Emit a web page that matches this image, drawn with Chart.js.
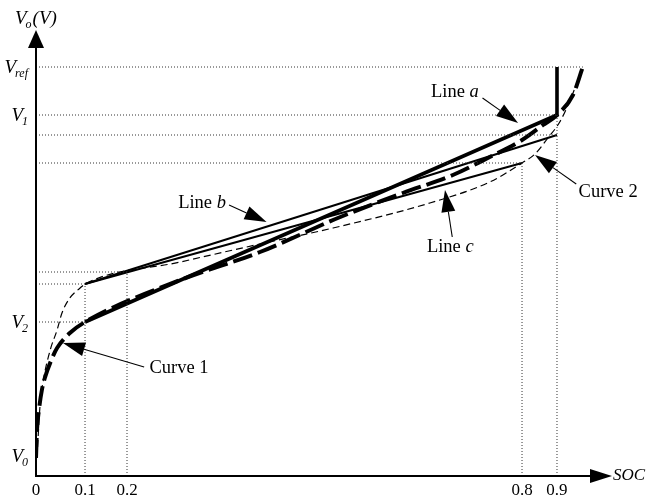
<!DOCTYPE html>
<html>
<head>
<meta charset="utf-8">
<script src="https://cdn.jsdelivr.net/npm/chart.js@4.4.0/dist/chart.umd.min.js"></script>
<style>
  html, body { margin: 0; padding: 0; background: #fff; }
  #wrap { width: 646px; height: 503px; }
</style>
</head>
<body>
<div id="wrap"><canvas id="c" width="646" height="503"></canvas></div>
<script>
// ---- axis ticks ----
const socTicks = [0, 0.1, 0.2, 0.8, 0.9];
const socTickLabels = ['0', '0.1', '0.2', '0.8', '0.9'];
const voltTickValues = [0.20, 1.54, 3.61, 4.09];
const voltTickMain = ['V', 'V', 'V', 'V'];
const voltTickSub = ['0', '2', '1', 'ref'];

// ---- Curve 1 (thick dashed) ----
const curve1Soc  = [0, 0.002, 0.006, 0.012, 0.018, 0.033, 0.043, 0.069, 0.1, 0.281, 0.402, 0.524, 0.619, 0.695, 0.748, 0.8, 0.86, 0.9, 0.929, 0.947];
const curve1Volt = [0.18, 0.46, 0.66, 0.86, 0.98, 1.18, 1.28, 1.43, 1.54, 1.96, 2.24, 2.59, 2.83, 3.01, 3.18, 3.36, 3.51, 3.61, 3.81, 4.09];

// ---- Curve 2 (thin dashed) ----
const curve2Soc  = [0.002, 0.004, 0.008, 0.014, 0.029, 0.043, 0.053, 0.069, 0.09, 0.1, 0.281, 0.402, 0.513, 0.66, 0.751, 0.8, 0.837, 0.874, 0.905, 0.924, 0.947];
const curve2Volt = [0.18, 0.36, 0.69, 0.93, 1.26, 1.46, 1.63, 1.78, 1.88, 1.92, 2.14, 2.32, 2.48, 2.73, 2.94, 3.13, 3.22, 3.38, 3.54, 3.76, 4.09];

// ---- straight-line approximations ----
const lineASoc  = [0.1, 0.9, 0.9];
const lineAVolt = [1.54, 3.61, 4.09];
const lineBSoc  = [0.1, 0.9];
const lineBVolt = [1.92, 3.41];
const lineCSoc  = [0.1, 0.8];
const lineCVolt = [1.92, 3.13];

// ---- dotted reference lines ----
const hGuideVolt   = [4.09, 3.61, 3.41, 3.13, 2.04, 1.92, 1.54];
const hGuideSocEnd = [0.947, 0.9, 0.9, 0.8, 0.2, 0.1, 0.1];
const vGuideSoc     = [0.1, 0.2, 0.8, 0.9];
const vGuideVoltTop = [1.92, 2.04, 3.13, 3.61];

// ---- callout labels: text parts [upright, italic], label centre, arrow start, arrow tip ----
const calloutText   = [['Line ', 'a'], ['Line ', 'b'], ['Line ', 'c'], ['Curve 1', ''], ['Curve 2', '']];
const calloutAt     = [[0.698, 3.84], [0.314, 2.73], [0.691, 2.29], [0.279, 1.08], [0.993, 2.84]];
const calloutFrom   = [[0.740, 3.78], [0.355, 2.71], [0.694, 2.39], [0.226, 1.09], [0.935, 2.92]];
const calloutTip    = [[0.794, 3.53], [0.412, 2.54], [0.683, 2.86], [0.055, 1.33], [0.837, 3.21]];

// SOC axis is drawn with uneven spacing between its marked values
const socKnots = [0, 0.1, 0.2, 0.8, 0.9, 1.0];
const socKnotPos = [0, 0.0851, 0.158, 0.8438, 0.9045, 1];

function interp(v, xs, ys) {
  if (v <= xs[0]) return ys[0] + (v - xs[0]) * (ys[1] - ys[0]) / (xs[1] - xs[0]);
  for (let i = 1; i < xs.length; i++) {
    if (v <= xs[i]) return ys[i - 1] + (v - xs[i - 1]) * (ys[i] - ys[i - 1]) / (xs[i] - xs[i - 1]);
  }
  const n = xs.length - 1;
  return ys[n] + (v - xs[n]) * (ys[n] - ys[n - 1]) / (xs[n] - xs[n - 1]);
}

class SegmentedScale extends Chart.LinearScale {
  getPixelForValue(value) {
    if (value === null || value === undefined || isNaN(value)) return NaN;
    return this.getPixelForDecimal(interp(value, socKnots, socKnotPos));
  }
  getValueForPixel(pixel) {
    return interp(this.getDecimalForPixel(pixel), socKnotPos, socKnots);
  }
}
SegmentedScale.id = 'segmented';
SegmentedScale.defaults = Chart.LinearScale.defaults;
Chart.register(SegmentedScale);

const pts = (xs, ys) => xs.map((x, i) => ({ x: x, y: ys[i] }));

const datasets = [];
// dotted guides first so the curves sit on top
hGuideVolt.forEach((v, i) => datasets.push({
  data: [{ x: 0, y: v }, { x: hGuideSocEnd[i], y: v }],
  borderColor: '#333', borderWidth: 1, borderDash: [1, 2], pointRadius: 0, tension: 0
}));
vGuideSoc.forEach((s, i) => datasets.push({
  data: [{ x: s, y: 0 }, { x: s, y: vGuideVoltTop[i] }],
  borderColor: '#333', borderWidth: 1, borderDash: [1, 2], pointRadius: 0, tension: 0
}));
datasets.push({
  label: 'Curve 2', data: pts(curve2Soc, curve2Volt),
  borderColor: '#000', borderWidth: 1.2, borderDash: [7, 4], pointRadius: 0,
  cubicInterpolationMode: 'monotone'
});
datasets.push({
  label: 'Line b', data: pts(lineBSoc, lineBVolt),
  borderColor: '#000', borderWidth: 2, pointRadius: 0, tension: 0
});
datasets.push({
  label: 'Line c', data: pts(lineCSoc, lineCVolt),
  borderColor: '#000', borderWidth: 2, pointRadius: 0, tension: 0
});
datasets.push({
  label: 'Line a', data: pts(lineASoc, lineAVolt),
  borderColor: '#000', borderWidth: 3.6, pointRadius: 0, tension: 0,
  borderJoinStyle: 'miter'
});
datasets.push({
  label: 'Curve 1', data: pts(curve1Soc, curve1Volt),
  borderColor: '#000', borderWidth: 4, borderDash: [20, 6], pointRadius: 0,
  cubicInterpolationMode: 'monotone'
});

const SERIF = '"Liberation Serif", "DejaVu Serif", serif';

function drawSubLabel(ctx, main, sub, x, cy, align) {
  ctx.font = 'italic 19px ' + SERIF;
  const wm = ctx.measureText(main).width;
  ctx.font = 'italic 12px ' + SERIF;
  const ws = ctx.measureText(sub).width;
  const left = align === 'right' ? x - wm - ws : x;
  ctx.textBaseline = 'alphabetic';
  ctx.textAlign = 'left';
  ctx.font = 'italic 19px ' + SERIF;
  ctx.fillText(main, left, cy + 6);
  ctx.font = 'italic 12px ' + SERIF;
  ctx.fillText(sub, left + wm - 1, cy + 10);
  return left + wm - 1 + ws;
}

function arrowHead(ctx, x0, y0, x1, y1, len, half) {
  const a = Math.atan2(y1 - y0, x1 - x0);
  const bx = x1 - len * Math.cos(a), by = y1 - len * Math.sin(a);
  ctx.beginPath();
  ctx.moveTo(x1, y1);
  ctx.lineTo(bx + half * Math.sin(a), by - half * Math.cos(a));
  ctx.lineTo(bx - half * Math.sin(a), by + half * Math.cos(a));
  ctx.closePath();
  ctx.fill();
  return [bx, by];
}

const decorations = {
  id: 'decorations',
  afterDatasetsDraw(chart) {
    const ctx = chart.ctx;
    const xs = chart.scales.x, ys = chart.scales.y;
    const area = chart.chartArea;
    const ox = xs.getPixelForValue(0), oy = ys.getPixelForValue(0);
    ctx.save();
    ctx.fillStyle = '#000';
    ctx.strokeStyle = '#000';

    // axes with arrow heads
    ctx.lineWidth = 2;
    ctx.beginPath();
    ctx.moveTo(ox, oy); ctx.lineTo(ox, area.top + 14);
    ctx.moveTo(ox - 1, oy); ctx.lineTo(area.right - 18, oy);
    ctx.stroke();
    arrowHead(ctx, ox, oy, ox, area.top, 18, 8);
    arrowHead(ctx, ox, oy, area.right, oy, 22, 7);

    // SOC tick labels
    ctx.font = '17px ' + SERIF;
    ctx.textAlign = 'center';
    ctx.textBaseline = 'middle';
    socTicks.forEach((s, i) => ctx.fillText(socTickLabels[i], xs.getPixelForValue(s), oy + 15));

    // voltage level labels
    voltTickValues.forEach((v, i) => drawSubLabel(ctx, voltTickMain[i], voltTickSub[i], ox - 7, ys.getPixelForValue(v), 'right'));

    // axis titles
    const endX = drawSubLabel(ctx, 'V', 'o', ox - 21, area.top - 12, 'left');
    ctx.font = 'italic 19px ' + SERIF;
    ctx.textAlign = 'left';
    ctx.textBaseline = 'alphabetic';
    ctx.fillText('(V)', endX + 1, area.top - 6);
    ctx.font = 'italic 17px ' + SERIF;
    ctx.textBaseline = 'middle';
    ctx.fillText('SOC', area.right + 1, oy);

    // callouts
    ctx.lineWidth = 1.1;
    calloutText.forEach((parts, i) => {
      const tx = xs.getPixelForValue(calloutAt[i][0]), ty = ys.getPixelForValue(calloutAt[i][1]);
      ctx.font = '18.5px ' + SERIF;
      const w1 = ctx.measureText(parts[0]).width;
      ctx.font = 'italic 18.5px ' + SERIF;
      const w2 = ctx.measureText(parts[1]).width;
      const left = tx - (w1 + w2) / 2;
      ctx.textAlign = 'left';
      ctx.textBaseline = 'middle';
      ctx.font = '18.5px ' + SERIF;
      ctx.fillText(parts[0], left, ty);
      ctx.font = 'italic 18.5px ' + SERIF;
      ctx.fillText(parts[1], left + w1, ty);

      const fx = xs.getPixelForValue(calloutFrom[i][0]), fy = ys.getPixelForValue(calloutFrom[i][1]);
      const px = xs.getPixelForValue(calloutTip[i][0]), py = ys.getPixelForValue(calloutTip[i][1]);
      const base = arrowHead(ctx, fx, fy, px, py, 22, 7);
      ctx.beginPath();
      ctx.moveTo(fx, fy); ctx.lineTo(base[0], base[1]);
      ctx.stroke();
    });
    ctx.restore();
  }
};

new Chart(document.getElementById('c'), {
  type: 'line',
  data: { datasets: datasets },
  options: {
    responsive: false,
    animation: false,
    events: [],
    layout: { padding: { left: 36, right: 34, top: 30, bottom: 27 } },
    plugins: { legend: { display: false }, tooltip: { enabled: false } },
    scales: {
      x: { type: 'segmented', min: 0, max: 1.0, display: false },
      y: { type: 'linear', min: 0, max: 4.46, display: false }
    }
  },
  plugins: [decorations]
});
</script>
</body>
</html>
